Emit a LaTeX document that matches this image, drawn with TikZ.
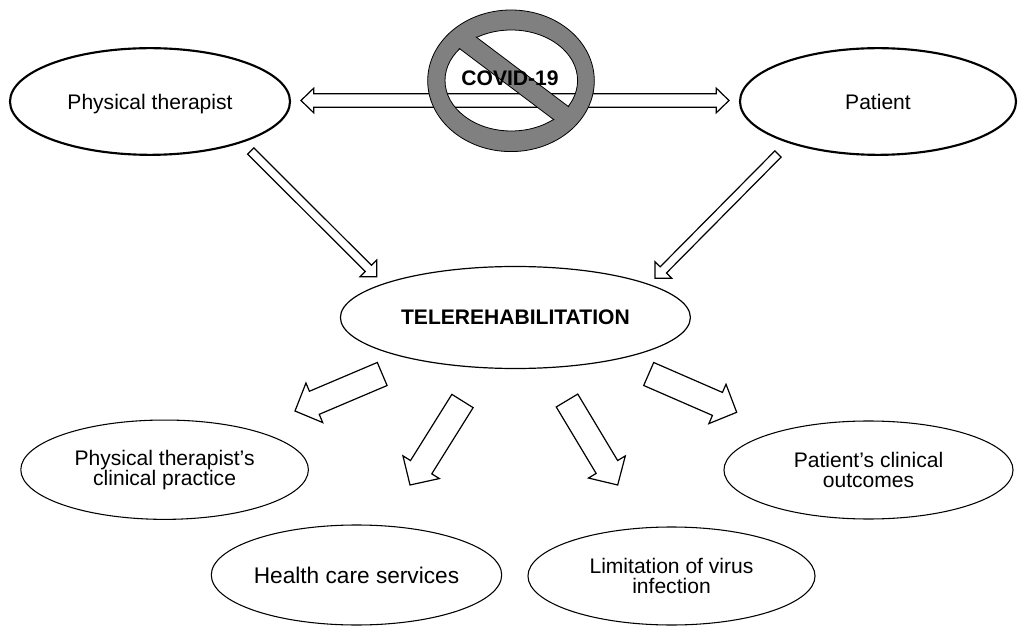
\documentclass[tikz,border=0pt]{standalone}
\usepackage{fontspec}
\setmainfont{Liberation Sans}
\usetikzlibrary{shapes,calc,positioning}

\definecolor{signgray}{gray}{0.5}

\tikzset{
  bubble/.style={ellipse, draw, line width=0.8pt, inner sep=0pt, align=center,
    font=\fontsize{15.8}{15.2}\selectfont},
  bigbubble/.style={bubble, line width=1.6pt, text depth=0pt},
  blockarrow/.style={draw, line width=0.9pt, fill=white, line join=miter}
}

% hollow block arrow: from, to, shaft half width, head half width, head length
\newcommand{\fatarrow}[5]{%
  \coordinate (fa-b) at ($(#2)!#5!(#1)$);
  \draw[blockarrow] ($(#1)!#3!90:(#2)$) -- ($(fa-b)!#3!-90:(#1)$) -- ($(fa-b)!#4!-90:(#1)$)
    -- (#2) -- ($(fa-b)!#4!90:(#1)$) -- ($(fa-b)!#3!90:(#1)$) -- ($(#1)!#3!-90:(#2)$) -- cycle;}
% same, with a head at both ends
\newcommand{\dblarrow}[5]{%
  \coordinate (da-a) at ($(#1)!#5!(#2)$);
  \coordinate (da-b) at ($(#2)!#5!(#1)$);
  \draw[blockarrow] (#1) -- ($(da-a)!#4!90:(#2)$) -- ($(da-a)!#3!90:(#2)$) -- ($(da-b)!#3!-90:(#1)$)
    -- ($(da-b)!#4!-90:(#1)$) -- (#2) -- ($(da-b)!#4!90:(#1)$) -- ($(da-b)!#3!90:(#1)$)
    -- ($(da-a)!#3!-90:(#2)$) -- ($(da-a)!#4!-90:(#2)$) -- cycle;}

\begin{document}
\begin{tikzpicture}[x=0.75pt, y=-0.75pt]
\useasboundingbox (0,0) rectangle (1018,627);

% Top row
\node[bigbubble, minimum width=210pt, minimum height=80pt] (therapist) at (150,101.5) {Physical therapist};
\node[bigbubble, minimum width=207pt, minimum height=80pt] (patient) at (878,101.5) {Patient};

\coordinate (link-l) at (301,100.5);
\coordinate (link-r) at (729,100.5);
\dblarrow{link-l}{link-r}{5pt}{9.2pt}{9.5pt}

% Forbidden sign
\coordinate (sign) at (511,80.8);
\fill[signgray, even odd rule] (sign) ellipse [x radius=83.3, y radius=70.8]
  (511.3,80.5) ellipse [x radius=66.3, y radius=50.5];
\draw[line width=0.6pt] (sign) ellipse [x radius=83.3, y radius=70.8]
  (511.3,80.5) ellipse [x radius=66.3, y radius=50.5];
\begin{scope}
  \clip (511.3,80.5) ellipse [x radius=67.3, y radius=51.5];
  \fill[signgray] (439.9,33.8) -- (575.7,136.2) -- (587.3,120.8) -- (451.5,18.4) -- cycle;
  \draw[line width=0.6pt] (439.9,33.8) -- (575.7,136.2) (587.3,120.8) -- (451.5,18.4);
\end{scope}
\node[font=\fontsize{15.8}{18}\selectfont\bfseries] (covid) at (510,78) {COVID-19};

% Centre
\node[bubble, line width=0.9pt, font=\fontsize{15.8}{18}\selectfont\bfseries,
  minimum width=262.5pt, minimum height=76.5pt] (tele) at (515.4,317.5) {TELEREHABILITATION};

\coordinate (in-l) at (250.7,151);
\coordinate (in-l-tip) at (376.7,276.7);
\coordinate (in-r) at (778,154);
\coordinate (in-r-tip) at (655,278.3);
\fatarrow{in-l}{in-l-tip}{3.3pt}{8.85pt}{8.85pt}
\fatarrow{in-r}{in-r-tip}{3.3pt}{8.85pt}{8.85pt}

% Outcomes
\node[bubble, minimum width=215.7pt, minimum height=74.5pt] (practice) at (164.6,469.7) {Physical therapist’s\\clinical practice};
\node[bubble, minimum width=215.3pt, minimum height=75pt, font=\fontsize{17}{17}\selectfont] (services) at (356.5,575) {Health care services};
\node[bubble, minimum width=215.3pt, minimum height=73.5pt] (virus) at (671.5,576) {Limitation of virus\\infection};
\node[bubble, minimum width=216.8pt, minimum height=73.5pt] (outcomes) at (868.5,470) {Patient’s clinical\\outcomes};

\coordinate (out-a) at (382.2,374);   \coordinate (out-a-tip) at (295,411);
\coordinate (out-b) at (462.5,401);   \coordinate (out-b-tip) at (410,485);
\coordinate (out-c) at (567,400.5);   \coordinate (out-c-tip) at (617.7,485);
\coordinate (out-d) at (648.7,374);   \coordinate (out-d-tip) at (736.7,412.3);
\foreach \a in {a,b,c,d}
  \fatarrow{out-\a}{out-\a-tip}{9.4pt}{16.1pt}{15.75pt};
\end{tikzpicture}
\end{document}
